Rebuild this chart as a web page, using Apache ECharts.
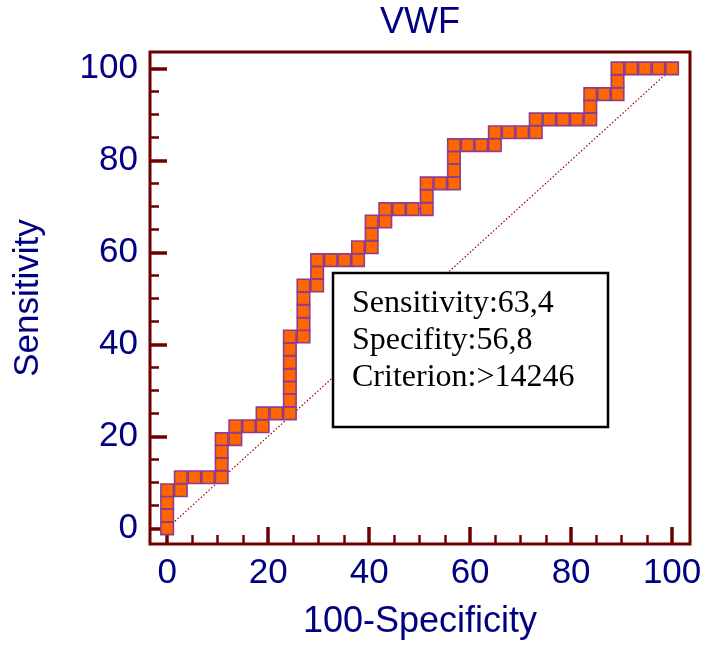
<!DOCTYPE html>
<html>
<head>
<meta charset="utf-8">
<script src="https://cdn.jsdelivr.net/npm/echarts@6/dist/echarts.min.js"></script>
<style>
html,body{margin:0;padding:0;background:#fff;}
#chart{width:707px;height:648px;}
</style>
</head>
<body>
<div id="chart"></div>
<script>
// ROC curve points: 100-Specificity (x) and Sensitivity (y), in %
const fpr = [0, 0, 0, 0, 2.7, 2.7, 5.4, 8.1, 10.8, 10.8, 10.8, 10.8, 13.5, 13.5, 16.2, 18.9, 18.9, 21.6, 24.3, 24.3,
  24.3, 24.3, 24.3, 24.3, 24.3, 27.0, 27.0, 27.0, 27.0, 27.0, 29.7, 29.7, 29.7, 32.4, 35.1, 37.8, 37.8, 40.5, 40.5, 40.5,
  43.2, 43.2, 45.9, 48.6, 51.4, 51.4, 51.4, 54.1, 56.8, 56.8, 56.8, 56.8, 59.5, 62.2, 64.9, 64.9, 67.6, 70.3, 73.0, 73.0,
  75.7, 78.4, 81.1, 83.8, 83.8, 83.8, 86.5, 89.2, 89.2, 89.2, 91.9, 94.6, 97.3, 100];
const tpr = [0, 2.8, 5.6, 8.3, 8.3, 11.1, 11.1, 11.1, 11.1, 13.9, 16.7, 19.4, 19.4, 22.2, 22.2, 22.2, 25.0, 25.0, 25.0, 27.8,
  30.6, 33.3, 36.1, 38.9, 41.7, 41.7, 44.4, 47.2, 50.0, 52.8, 52.8, 55.6, 58.3, 58.3, 58.3, 58.3, 61.1, 61.1, 63.9, 66.7,
  66.7, 69.4, 69.4, 69.4, 69.4, 72.2, 75.0, 75.0, 75.0, 77.8, 80.6, 83.3, 83.3, 83.3, 83.3, 86.1, 86.1, 86.1, 86.1, 88.9,
  88.9, 88.9, 88.9, 88.9, 91.7, 94.4, 94.4, 94.4, 97.2, 100, 100, 100, 100, 100];
// reference diagonal
const diagX = [0, 100];
const diagY = [0, 100];
// tick labels
const majorTicks = [0, 20, 40, 60, 80, 100];
const minorTicks = [5, 10, 15, 25, 30, 35, 45, 50, 55, 65, 70, 75, 85, 90, 95];
const titleText = 'VWF';
const xName = '100-Specificity';
const yName = 'Sensitivity';
const boxLines = ['Sensitivity:63,4', 'Specifity:56,8', 'Criterion:>14246'];

const navy = '#000080';
const frame = '#6e0000';
const sans = 'Liberation Sans, Arial, sans-serif';
const serifFont = '32px "Liberation Serif", "Times New Roman", serif';
const AX_MIN = -3.4, AX_MAX = 103.55;

function mkAxis(dim, main) {
  const base = {
    type: 'value', min: AX_MIN, max: AX_MAX,
    position: dim === 'x' ? 'bottom' : 'left',
    axisLine: {show: false, onZero: false},
    splitLine: {show: false},
    axisTick: main
      ? {show: true, inside: true, length: 17, customValues: majorTicks, lineStyle: {color: frame, width: 3.5}}
      : {show: true, inside: true, length: 9, customValues: minorTicks, lineStyle: {color: frame, width: 2.5}},
    axisLabel: main
      ? {show: true, customValues: majorTicks, color: navy, fontSize: 35, fontFamily: sans, margin: 12}
      : {show: false},
  };
  if (main) {
    base.name = dim === 'x' ? xName : yName;
    base.nameLocation = 'middle';
    base.nameGap = dim === 'x' ? 60 : 104;
    base.nameTextStyle = {color: navy, fontSize: dim === 'x' ? 36 : 35, fontFamily: sans};
  }
  return base;
}

const chart = echarts.init(document.getElementById('chart'), null, {renderer: 'canvas'});
chart.setOption({
  animation: false,
  backgroundColor: '#ffffff',
  title: {
    text: titleText, left: 415, top: 0, textAlign: 'center',
    textStyle: {color: navy, fontSize: 36, fontWeight: 'normal', fontFamily: sans}
  },
  grid: {left: 150, right: 17, top: 52, bottom: 104, show: true, borderColor: frame, borderWidth: 3, backgroundColor: 'transparent'},
  xAxis: [mkAxis('x', true), mkAxis('x', false)],
  yAxis: [mkAxis('y', true), mkAxis('y', false)],
  series: [
    {
      type: 'line', xAxisIndex: 0, yAxisIndex: 0,
      data: diagX.map((x, i) => [x, diagY[i]]),
      symbol: 'none', silent: true, z: 1,
      lineStyle: {color: '#a00000', width: 1.2, type: [1.5, 2]}
    },
    {
      type: 'line', xAxisIndex: 0, yAxisIndex: 0,
      data: fpr.map((x, i) => [x, tpr[i]]),
      symbol: 'rect', symbolSize: 12.5, showAllSymbol: true, z: 3,
      itemStyle: {color: '#ff6600', borderColor: '#8e3c8e', borderWidth: 1.6},
      lineStyle: {color: '#4a2a8c', width: 2}
    }
  ],
  graphic: [
    {
      type: 'group', z: 100,
      children: [
        {type: 'rect', shape: {x: 333, y: 273, width: 275, height: 154}, style: {fill: '#ffffff', stroke: '#000000', lineWidth: 2.5}, z: 100},
        {type: 'text', x: 352, y: 320, z: 101, style: {text: boxLines[0], font: serifFont, fill: '#000', verticalAlign: 'bottom'}},
        {type: 'text', x: 352, y: 357, z: 101, style: {text: boxLines[1], font: serifFont, fill: '#000', verticalAlign: 'bottom'}},
        {type: 'text', x: 352, y: 394, z: 101, style: {text: boxLines[2], font: serifFont, fill: '#000', verticalAlign: 'bottom'}}
      ]
    }
  ]
});
</script>
</body>
</html>
